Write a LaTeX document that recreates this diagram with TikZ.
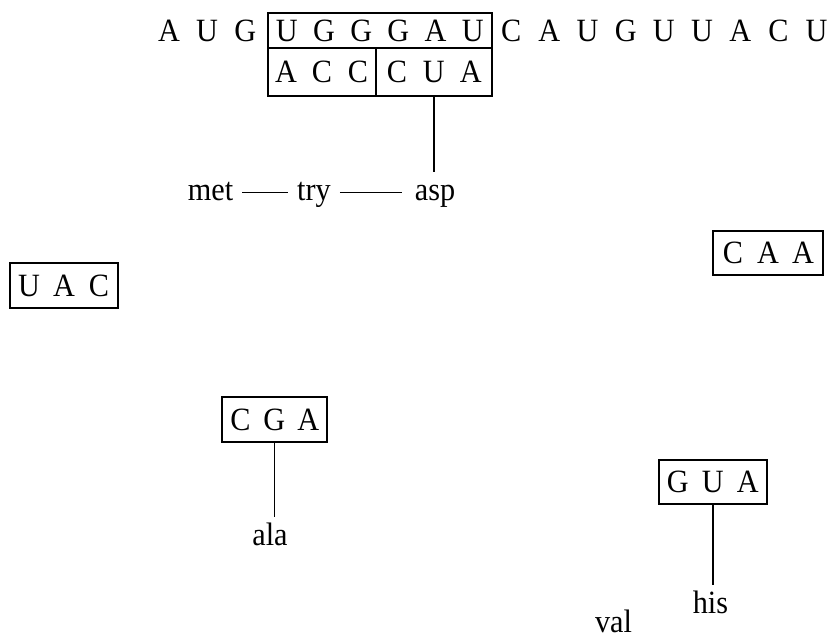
\documentclass[tikz,border=0pt]{standalone}
\usepackage{fontspec}
\setmainfont{Liberation Serif}[FakeStretch=0.93]
\newlength\pitchlen
\newcommand\pl[1]{\makebox[\pitchlen][c]{#1}}
\begin{document}
\begin{tikzpicture}[x=1pt,y=-1pt,
  font=\fontsize{32.5pt}{34pt}\selectfont,
  seqbox/.style={draw, line width=1.9pt, inner sep=0pt, text height=21.5pt, text depth=0pt},
  seqtext/.style={inner sep=0pt, text height=21.5pt, text depth=0pt, anchor=base},
  aa/.style={inner xsep=9pt, inner ysep=7pt, text height=21pt, text depth=6pt, anchor=base},
  link/.style={line width=1.6pt}]
\useasboundingbox (0,0) rectangle (833,642);

% top mRNA row
\node[seqtext] (aug) at (207.1,41.7) {\setlength\pitchlen{38.1pt}\pl{A}\pl{U}\pl{G}};
\node[seqbox, minimum width=223.7pt, minimum height=35.6pt] (ugg) at (379.85,30.5)
  {\setlength\pitchlen{37.2pt}\pl{U}\pl{G}\pl{G}\pl{G}\pl{A}\pl{U}};
\node[seqtext] (cau) at (663.9,41.7)
  {\setlength\pitchlen{38.2pt}\pl{C}\pl{A}\pl{U}\pl{G}\pl{U}\pl{U}\pl{A}\pl{C}\pl{U}};

% anticodons under the mRNA
\node[seqbox, minimum width=108pt, minimum height=47.7pt] (acc) at (322,72.15)
  {\setlength\pitchlen{36pt}\pl{A}\pl{C}\pl{C}};
\node[seqbox, minimum width=115.7pt, minimum height=47.7pt] (cua) at (433.85,72.15)
  {\setlength\pitchlen{37pt}\pl{C}\pl{U}\pl{A}};

% peptide chain
\node[aa] (met) at (210.5,200) {met};
\node[aa] (try) at (314,200) {try};
\node[aa] (asp) at (435,200) {asp};
\draw[link] (met.east) -- (try.west);
\draw[link, shorten >=4pt] (try.east) -- (asp.west);
\draw[link] (cua.south) -- (cua.south |- asp.north);

% free tRNAs
\node[seqbox, minimum width=108pt, minimum height=45.3pt] (uac) at (64,285.35)
  {\setlength\pitchlen{35pt}\pl{U}\pl{A}\pl{C}};
\node[seqbox, minimum width=110pt, minimum height=44.3pt] (caa) at (768,252.85)
  {\setlength\pitchlen{35pt}\pl{C}\pl{A}\pl{A}};
\node[seqbox, minimum width=105.3pt, minimum height=45pt] (cga) at (274.35,419.5)
  {\setlength\pitchlen{34pt}\pl{C}\pl{G}\pl{A}};
\node[seqbox, minimum width=107.7pt, minimum height=44pt] (gua) at (712.85,482)
  {\setlength\pitchlen{35pt}\pl{G}\pl{U}\pl{A}};

\node[aa] (ala) at (270,545) {ala};
\node[aa] (his) at (710.5,613) {his};
\node[aa] (val) at (613.5,632) {val};
\draw[link] (cga.south) -- (cga.south |- ala.north);
\draw[link] (gua.south) -- (gua.south |- his.north);
\end{tikzpicture}
\end{document}
